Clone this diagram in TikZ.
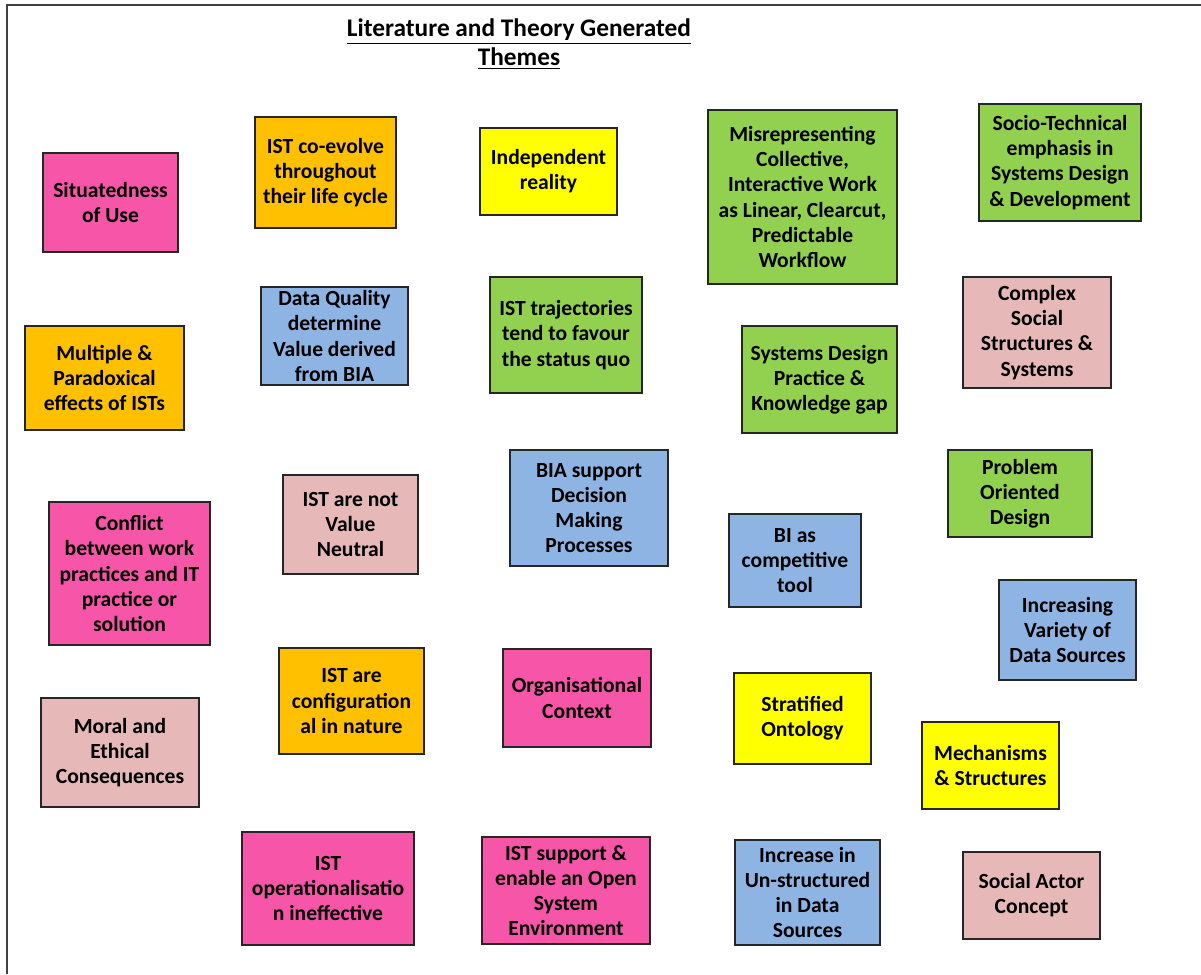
\documentclass[tikz,border=0pt]{standalone}
\usepackage{fontspec}
\setmainfont{Carlito}
\definecolor{cpink}{HTML}{F755A7}
\definecolor{corange}{HTML}{FFC000}
\definecolor{cyellow}{HTML}{FFFF00}
\definecolor{cgreen}{HTML}{92D050}
\definecolor{cblue}{HTML}{8EB4E3}
\definecolor{crose}{HTML}{E6B9B8}
\definecolor{frameline}{HTML}{404040}
\tikzset{
  themebox/.style={draw=black!85, line width=0.9pt, inner sep=0pt, outer sep=0pt,
    align=center, font=\fontsize{16.2}{18.9}\selectfont\bfseries},
  titletext/.style={align=center, font=\fontsize{19}{21.8}\selectfont\bfseries}
}
% box given by name, left, top, right, bottom (pixels), colour, text
\newcommand\themebox[7]{%
  \node[themebox, fill=#6, minimum width={(#4-#2)*0.75pt}, minimum height={(#5-#3)*0.75pt}]
    (#1) at ({(#2+#4)/2},{(#3+#5)/2}) {#7};}
\begin{document}
\begin{tikzpicture}[x=0.75pt,y=-0.75pt]
\useasboundingbox (0,0) rectangle (1201,974);
% page frame (left and top edges)
\coordinate (fbl) at (7,974);
\coordinate (ftl) at (7,5);
\coordinate (ftr) at (1201,5);
\draw[frameline, line width=1.5pt] (fbl) -- (ftl) -- (ftr);

\node[titletext] (title) at (519,44) {\underline{Literature and Theory Generated}\\\underline{Themes}};

\themebox{situ}{43}{153}{178}{252}{cpink}{Situatedness\\of Use}
\themebox{coevo}{255}{117}{396}{228}{corange}{IST co-evolve\\throughout\\their life cycle}
\themebox{indep}{480}{128}{617}{215}{cyellow}{Independent\\reality}
\themebox{misrep}{708}{110}{897}{284}{cgreen}{Misrepresenting\\Collective,\\Interactive Work\\as Linear, Clearcut,\\Predictable\\Workflow}
\themebox{socio}{979}{104}{1141}{221}{cgreen}{Socio-Technical\\emphasis in\\Systems Design\\\& Development}
\themebox{dataq}{261}{287}{408}{385}{cblue}{Data Quality\\determine\\Value derived\\from BIA}
\themebox{traj}{490}{277}{642}{393}{cgreen}{IST trajectories\\tend to favour\\the status quo}
\themebox{complex}{963}{277}{1111}{388}{crose}{Complex\\Social\\Structures \&\\Systems}
\themebox{multi}{25}{326}{184}{430}{corange}{Multiple \&\\Paradoxical\\effects of ISTs}
\themebox{sdp}{742}{326}{897}{433}{cgreen}{Systems Design\\Practice \&\\Knowledge gap}
\themebox{bia}{510}{450}{668}{566}{cblue}{BIA support\\Decision\\Making\\Processes}
\themebox{prob}{948}{450}{1092}{537}{cgreen}{Problem\\Oriented\\Design}
\themebox{notval}{283}{475}{418}{574}{crose}{IST are not\\Value\\Neutral}
\themebox{conflict}{49}{502}{210}{645}{cpink}{Conflict\\between work\\practices and IT\\practice or\\solution}
\themebox{bicomp}{729}{514}{861}{607}{cblue}{BI as\\competitive\\tool}
\themebox{variety}{999}{580}{1136}{680}{cblue}{Increasing\\Variety of\\Data Sources}
\themebox{config}{279}{648}{424}{754}{corange}{IST are\\configuration\\al in nature}
\themebox{org}{503}{649}{651}{747}{cpink}{Organisational\\Context}
\themebox{strat}{734}{673}{871}{764}{cyellow}{Stratified\\Ontology}
\themebox{moral}{41}{698}{199}{807}{crose}{Moral and\\Ethical\\Consequences}
\themebox{mech}{922}{722}{1059}{809}{cyellow}{Mechanisms\\\& Structures}
\themebox{oper}{242}{832}{414}{945}{cpink}{IST\\operationalisatio\\n ineffective}
\themebox{open}{482}{837}{650}{944}{cpink}{IST support \&\\enable an Open\\System\\Environment}
\themebox{unstr}{735}{840}{880}{945}{cblue}{Increase in\\Un-structured\\in Data\\Sources}
\themebox{actor}{963}{852}{1100}{939}{crose}{Social Actor\\Concept}
\end{tikzpicture}
\end{document}
